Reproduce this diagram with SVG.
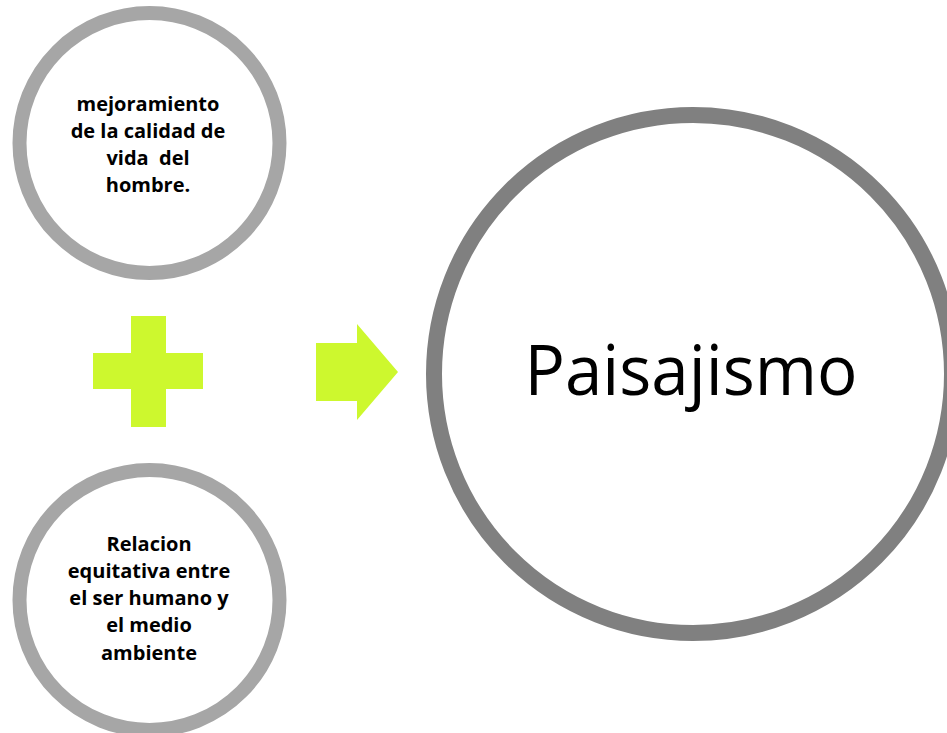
<svg xmlns="http://www.w3.org/2000/svg" width="947" height="733" viewBox="0 0 947 733">
<style>
.small{fill:#ffffff;stroke:#a6a6a6;stroke-width:14}
.big{fill:#ffffff;stroke:#808080;stroke-width:16}
.lbl{font-family:"Open Sans","Liberation Sans",sans-serif;font-size:20px;font-weight:bold;fill:#000;text-anchor:middle;white-space:pre}
.title{font-family:"Open Sans","Liberation Sans",sans-serif;font-size:70px;fill:#000;text-anchor:middle}
.sym{fill:#cdf82e}
</style>
<rect width="947" height="733" fill="#ffffff"/>
<g id="node-mejoramiento">
<circle class="small" cx="149.5" cy="143" r="130"/>
<text class="lbl" x="148" y="111">mejoramiento</text>
<text class="lbl" x="148" y="138">de la calidad de</text>
<text class="lbl" x="148" y="165" xml:space="preserve">vida  del</text>
<text class="lbl" x="148" y="192">hombre.</text>
</g>
<g id="node-relacion">
<circle class="small" cx="149.5" cy="600" r="130"/>
<text class="lbl" x="149" y="551">Relacion</text>
<text class="lbl" x="149" y="578">equitativa entre</text>
<text class="lbl" x="149" y="605">el ser humano y</text>
<text class="lbl" x="149" y="632">el medio</text>
<text class="lbl" x="149" y="660">ambiente</text>
</g>
<g id="node-paisajismo">
<circle class="big" cx="693" cy="374" r="259"/>
<text class="title" x="691" y="395" textLength="333" lengthAdjust="spacingAndGlyphs">Paisajismo</text>
</g>
<g id="connectors">
<path id="plus" class="sym" d="M131 316 H166 V353 H203 V389 H166 V427 H131 V389 H93 V353 H131 Z"/>
<path id="arrow" class="sym" d="M316 343 H357 V324 L398 372 L357 420 V401 H316 Z"/>
</g>
</svg>
